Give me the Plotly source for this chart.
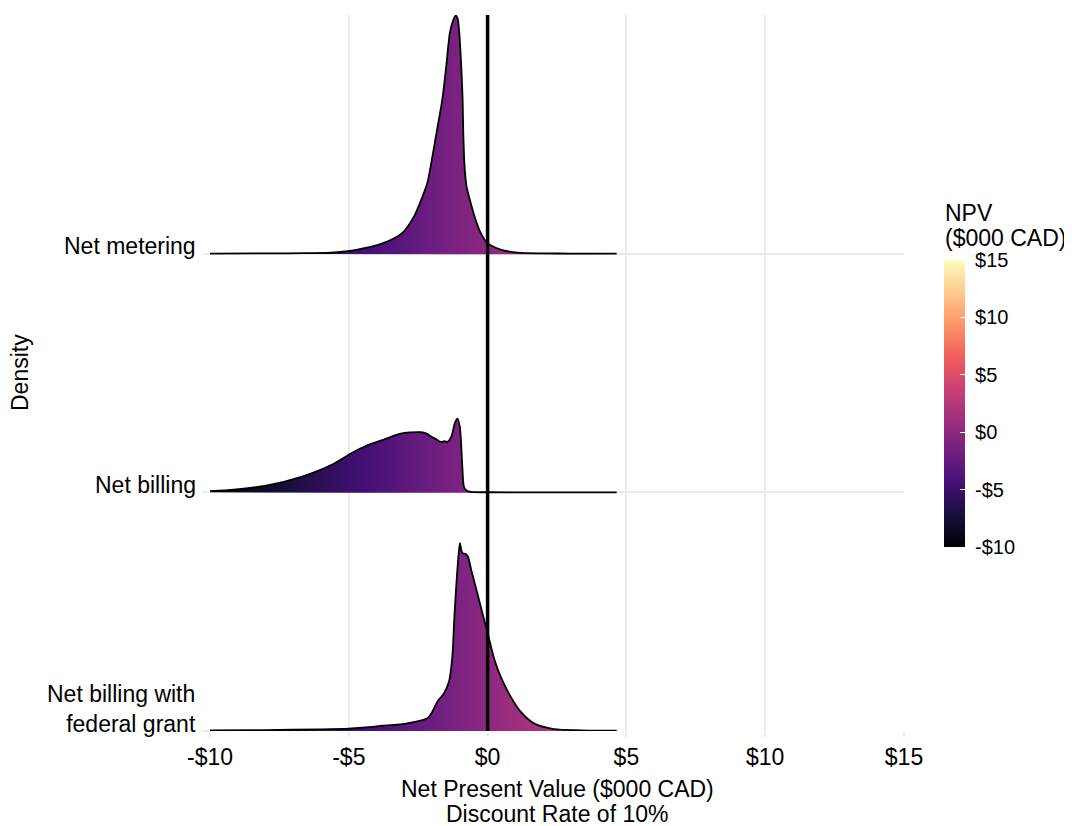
import plotly.graph_objects as go

# ---------------- data ----------------
categories = ["Net billing with<br>federal grant", "Net billing", "Net metering"]
baselines = [1, 2, 3]

metering_x = [-10, -8, -6.5, -5.66, -4.69, -3.74, -3.07, -2.65, -2.39, -2.17, -2.05, -1.84,
              -1.63, -1.49, -1.36, -1.25, -1.15, -1.08, -1.02, -0.95, -0.90, -0.876, -0.83,
              -0.76, -0.64, -0.47, -0.25, -0.01, 0.47, 1.07, 2.0, 3.0, 4.65]
metering_d = [0.0005, 0.001, 0.002, 0.004, 0.017, 0.045, 0.087, 0.156, 0.226, 0.296, 0.366, 0.506,
              0.646, 0.785, 0.925, 0.975, 0.998, 0.985, 0.925, 0.785, 0.646, 0.506, 0.366,
              0.282, 0.226, 0.156, 0.087, 0.045, 0.017, 0.004, 0.001, 0.0005, 0.0002]

billing_x = [-10, -9.14, -7.93, -6.74, -5.54, -4.94, -4.33, -3.74, -3.13, -2.8, -2.41, -2.2,
             -2.05, -1.85, -1.69, -1.55, -1.45, -1.31, -1.18, -1.09, -1.0, -0.91, -0.85, -0.73,
             -0.5, 0, 2, 4.65]
billing_d = [0.005, 0.011, 0.029, 0.064, 0.12, 0.162, 0.197, 0.221, 0.246, 0.251, 0.252, 0.246,
             0.235, 0.222, 0.211, 0.214, 0.211, 0.232, 0.29, 0.309, 0.274, 0.106, 0.022, 0.005,
             0.001, 0.0003, 0.0001, 0.0001]

grant_x = [-10, -8, -6, -5, -4.5, -3.85, -2.89, -2.17, -1.99, -1.81, -1.57, -1.39, -1.27, -1.19,
           -1.09, -1.0, -0.95, -0.91, -0.79, -0.71, -0.59, -0.37, -0.13, -0.01, 0.23, 0.47,
           0.83, 1.19, 1.67, 2.39, 3.35, 4.65]
grant_d = [0.002, 0.004, 0.007, 0.010, 0.014, 0.021, 0.032, 0.053, 0.081, 0.123, 0.158, 0.207,
           0.312, 0.493, 0.675, 0.787, 0.76, 0.745, 0.742, 0.731, 0.675, 0.577, 0.468, 0.416,
           0.305, 0.228, 0.144, 0.081, 0.032, 0.008, 0.003, 0.001]

x_ticks = [-10, -5, 0, 5, 10, 15]
x_tick_labels = ["-$10", "-$5", "$0", "$5", "$10", "$15"]
npv_min, npv_max = -10, 15

# drawn from the top (back) ridge to the bottom (front) ridge
ridges = [
    (metering_x, metering_d, 3),
    (billing_x, billing_d, 2),
    (grant_x, grant_d, 1),
]

FONT = "Liberation Sans, Arial, sans-serif"
GRID = "#EBEBEB"
SMOOTH = 0.7

fig = go.Figure()

for xs, ds, base in ridges:
    top = [base + d for d in ds]
    fig.add_trace(go.Scatter(
        x=xs + [xs[-1], xs[0]],
        y=top + [base, base],
        mode="lines",
        fill="toself",
        line=dict(width=0, shape="spline", smoothing=SMOOTH),
        fillgradient=dict(type="horizontal", colorscale="Magma",
                          start=npv_min, stop=npv_max),
        hoverinfo="skip", showlegend=False,
    ))
    fig.add_trace(go.Scatter(
        x=xs, y=top, mode="lines",
        line=dict(color="black", width=1.8, shape="spline", smoothing=SMOOTH),
        hoverinfo="skip", showlegend=False,
    ))

# colour bar
fig.add_trace(go.Scatter(
    x=[None], y=[None], mode="markers",
    marker=dict(
        color=[0], cmin=npv_min, cmax=npv_max, colorscale="Magma", showscale=True,
        colorbar=dict(
            x=(944 - 210) / 694, xanchor="left", xpad=0, ypad=0,
            y=(731 - 403.5) / 716, yanchor="middle",
            len=287, lenmode="pixels", thickness=21,
            outlinewidth=0,
            tickvals=x_ticks, ticktext=[" " + t for t in x_tick_labels],
            ticks="inside", ticklen=5, tickcolor="white", tickwidth=1.2,
            tickfont=dict(family=FONT, size=20, color="black"),
        ),
    ),
    hoverinfo="skip", showlegend=False,
))

# vertical reference line at 0
fig.add_shape(type="line", x0=0, x1=0, y0=0, y1=1, xref="x", yref="paper",
              line=dict(color="black", width=3.5), layer="above")

txt = dict(family=FONT, size=23, color="black")
label_shift = [22.5, 7, 8]
annotations = [
    dict(text=cat, x=0, xref="paper", y=b, yref="y", xanchor="right", yanchor="middle",
         align="right", xshift=-12, yshift=s, showarrow=False, font=txt)
    for cat, b, s in zip(categories, baselines, label_shift)
]
annotations += [
    # axis titles
    dict(text="Net Present Value ($000 CAD)", x=0.5, xref="paper", y=(731 - 789) / 716,
         yref="paper", xanchor="center", yanchor="middle", showarrow=False, font=txt),
    dict(text="Discount Rate of 10%", x=0.5, xref="paper", y=(731 - 814) / 716,
         yref="paper", xanchor="center", yanchor="middle", showarrow=False, font=txt),
    dict(text="Density", x=(20 - 210) / 694, xref="paper", y=0.5, yref="paper",
         xanchor="center", yanchor="middle", textangle=-90, showarrow=False, font=txt),
    # legend title
    dict(text="NPV", x=(943 - 210) / 694, xref="paper", y=(731 - 213) / 716, yref="paper",
         xanchor="left", yanchor="middle", showarrow=False, font=txt),
    dict(text="($000 CAD)", x=(943 - 210) / 694, xref="paper", y=(731 - 238) / 716,
         yref="paper", xanchor="left", yanchor="middle", showarrow=False, font=txt),
]

# the page body has an 8px margin, so the figure is 8px smaller and margins shifted
fig.update_layout(
    width=1064, height=818,
    margin=dict(l=202, r=168, t=7, b=95),
    paper_bgcolor="white", plot_bgcolor="white",
    showlegend=False,
    annotations=annotations,
    xaxis=dict(
        range=[npv_min, npv_max], tickvals=x_ticks, ticktext=x_tick_labels,
        showgrid=True, gridcolor=GRID, gridwidth=1.5, zeroline=False,
        ticks="outside", ticklen=5, tickcolor=GRID, tickwidth=1.5,
        tickfont=txt, showline=False, fixedrange=True,
    ),
    yaxis=dict(
        range=[1, 4.0], tickvals=baselines, ticktext=["", "", ""],
        showgrid=True, gridcolor=GRID, gridwidth=1.5, zeroline=False,
        ticks="outside", ticklen=6, tickcolor=GRID, tickwidth=1.5,
        showline=False, fixedrange=True,
    ),
)

fig.write_html("out.html")
